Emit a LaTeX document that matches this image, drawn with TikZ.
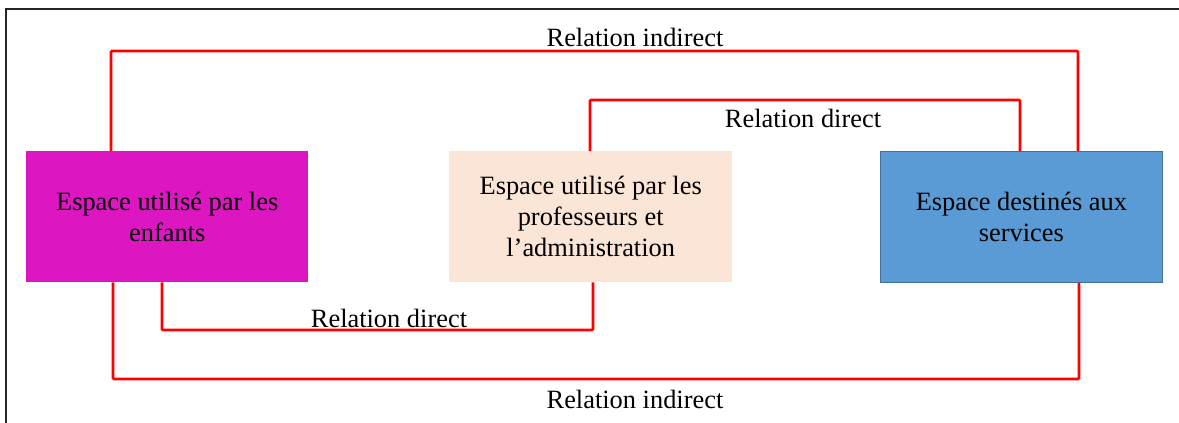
\documentclass[tikz,border=0pt]{standalone}
\usepackage{fontspec}
\setmainfont{Liberation Serif}
\definecolor{kidspink}{HTML}{DC16C0}
\definecolor{staffpeach}{HTML}{FBE5D6}
\definecolor{servblue}{HTML}{5B9BD5}
\definecolor{servedge}{HTML}{41719C}
\tikzset{
  space/.style={anchor=north west, inner sep=0pt, minimum width=282pt,
    minimum height=131pt, align=center, text=black,
    font=\fontsize{26.4}{31}\selectfont},
  rel/.style={draw=red, line width=2.7pt, rounded corners=1pt},
  rellabel/.style={inner sep=0pt, font=\fontsize{26.4}{31}\selectfont}
}
\begin{document}
\begin{tikzpicture}[x=1pt,y=-1pt]
  \useasboundingbox[fill=white] (0,0) rectangle (1179,423);
  % outer frame (top and left edges)
  \draw[line width=2pt, black!85] (1179,9) -- (6,9) -- (6,423);

  % the three spaces
  \node[space, fill=kidspink] (pink) at (26,151)
    {Espace utilisé par les\\enfants};
  \node[space, fill=staffpeach, minimum width=283pt] (peach) at (449,151)
    {Espace utilisé par les\\professeurs et\\l’administration};
  \node[space, fill=servblue, draw=servedge, line width=0.8pt] (blue) at (880,151)
    {Espace destinés aux\\services};

  % relations
  \draw[rel] ([xshift=85pt]pink.north west) |- (635,51) -| ([xshift=198pt]blue.north west);
  \draw[rel] ([xshift=141pt]peach.north west) |- (800,100) -| ([xshift=140pt]blue.north west);
  \draw[rel] ([xshift=136pt]pink.south west) |- (380,330) -| ([xshift=144pt]peach.south west);
  \draw[rel] ([xshift=87pt]pink.south west) |- (600,379) -| ([xshift=199pt]blue.south west);

  \node[rellabel] (ltop) at (635,37) {Relation indirect};
  \node[rellabel] (lmid) at (803,118) {Relation direct};
  \node[rellabel] (llow) at (389,318) {Relation direct};
  \node[rellabel] (lbot) at (635,399) {Relation indirect};
\end{tikzpicture}
\end{document}
